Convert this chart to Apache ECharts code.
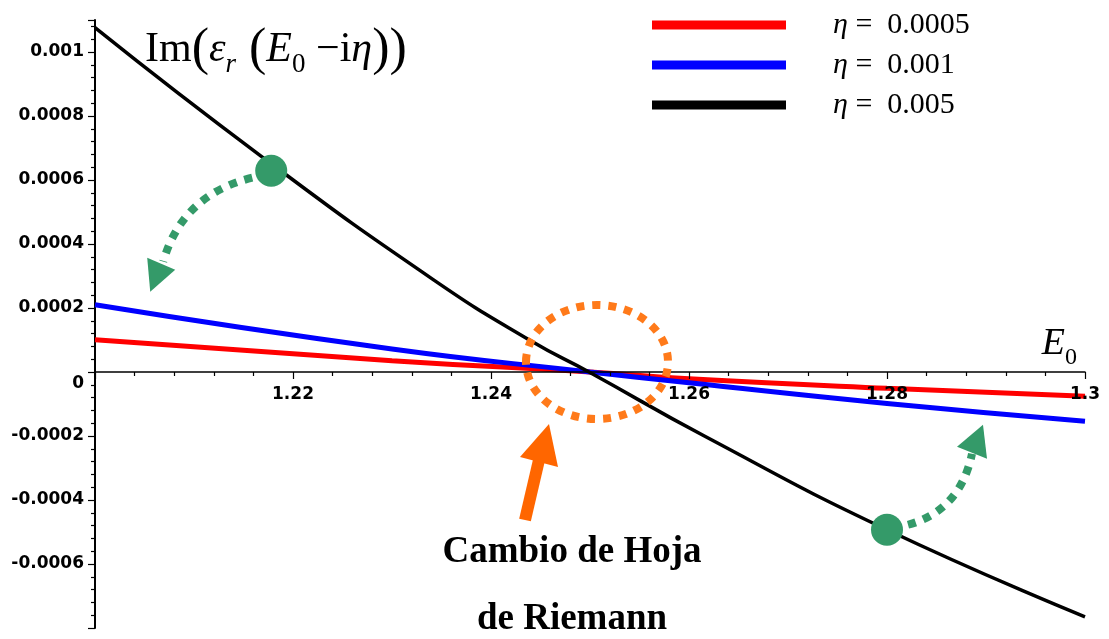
<!DOCTYPE html>
<html>
<head>
<meta charset="utf-8">
<title>Im(εr(E0 − iη))</title>
<script src="https://cdn.jsdelivr.net/npm/echarts@6/dist/echarts.min.js"></script>
<style>
  html, body { margin: 0; padding: 0; background: #fff; }
  #chart { width: 1109px; height: 639px; }
</style>
</head>
<body>
<div id="chart"></div>
<script>
// values
const etaLabels = ['0.0005', '0.001', '0.005'];
const lineColors = ['#ff0000', '#0000ff', '#000000'];

const e0Red = [1.2, 1.23, 1.25, 1.26, 1.28, 1.3];
const imRed = [0.000101, 0.0000353, 0, -0.0000213, -0.000051, -0.0000756];

const e0Blue = [1.2, 1.23, 1.25, 1.26, 1.28, 1.3];
const imBlue = [0.00021, 0.0000719, 0, -0.0000338, -0.0000984, -0.000154];

const e0Black = [1.2, 1.2168, 1.2342, 1.2441, 1.2499, 1.2616, 1.28, 1.3];
const imBlack = [0.001076, 0.000674, 0.000288, 0.000096, 0, -0.000201, -0.000493, -0.000765];

// axis ranges
const xMin = 1.2, xMax = 1.3, xStep = 0.02;
const yMin = -0.0008, yMax = 0.0011, yStep = 0.0002;

// annotation anchors (data coordinates)
const greenDots = [[1.2178, 0.000629], [1.28, -0.000493]];
const crossing = [1.25, 0];

const green = '#349a69';
const serif = 'Liberation Serif';
const gridTop = 20, gridHeight = 608;

const pairs = (xs, ys) => xs.map((x, i) => [x, ys[i]]);
const seriesData = [pairs(e0Red, imRed), pairs(e0Blue, imBlue), pairs(e0Black, imBlack)];

// the horizontal axis sits on y = 0, so lift it from the grid bottom by that much
const zeroLift = gridHeight * (0 - yMin) / (yMax - yMin);

const chart = echarts.init(document.getElementById('chart'));

const option = {
  animation: false,
  backgroundColor: '#fff',
  grid: { left: 95, right: 24, top: gridTop, height: gridHeight, outerBoundsMode: 'none' },
  legend: {
    orient: 'vertical',
    left: 647,
    top: 5,
    icon: 'rect',
    itemWidth: 134,
    itemHeight: 9,
    itemGap: 10,
    selectedMode: false,
    formatter: name => '{e|η}{t| =  ' + name.split('= ')[1] + '}',
    textStyle: {
      color: '#000',
      padding: [0, 0, 0, 42],
      rich: {
        e: { fontFamily: serif, fontStyle: 'italic', fontSize: 30, lineHeight: 34, color: '#000' },
        t: { fontFamily: serif, fontSize: 30, lineHeight: 34, color: '#000' }
      }
    }
  },
  xAxis: {
    type: 'value',
    min: xMin,
    max: xMax,
    interval: xStep,
    offset: -zeroLift,
    z: 5,
    name: '{i|E}{s|0}',
    nameLocation: 'end',
    nameGap: -8,
    nameMoveOverlap: false,
    nameTextStyle: {
      align: 'right',
      verticalAlign: 'bottom',
      padding: [0, 0, 2, 0],
      rich: {
        i: { fontFamily: serif, fontStyle: 'italic', fontSize: 38, lineHeight: 52, color: '#000' },
        s: { fontFamily: serif, fontSize: 24, lineHeight: 24, verticalAlign: 'bottom', color: '#000' }
      }
    },
    axisLine: { onZero: false, lineStyle: { color: '#000', width: 1.5 } },
    axisTick: { length: 7, lineStyle: { color: '#000', width: 1.2 } },
    minorTick: { show: true, splitNumber: 5, length: 4, lineStyle: { color: '#000', width: 1.2 } },
    splitLine: { show: false },
    axisLabel: {
      showMinLabel: false,
      hideOverlap: false,
      margin: 14,
      color: '#000',
      fontFamily: 'DejaVu Sans',
      fontWeight: 'bold',
      fontSize: 17,
      formatter: v => String(+v.toFixed(2))
    }
  },
  yAxis: {
    type: 'value',
    min: yMin,
    max: yMax,
    interval: yStep,
    name: '{n|Im}{p|(}{i|ε}{sr|r}{p| (}{i|E}{s0|0}{n| −i}{i|η}{p|))}',
    nameLocation: 'end',
    nameGap: -30,
    nameMoveOverlap: false,
    nameTextStyle: {
      align: 'left',
      verticalAlign: 'middle',
      padding: [0, 0, 0, 50],
      rich: {
        n: { fontFamily: serif, fontSize: 42, lineHeight: 56, color: '#000' },
        i: { fontFamily: serif, fontStyle: 'italic', fontSize: 42, lineHeight: 56, color: '#000' },
        p: { fontFamily: serif, fontSize: 52, lineHeight: 56, color: '#000' },
        sr: { fontFamily: serif, fontStyle: 'italic', fontSize: 27, lineHeight: 26, verticalAlign: 'bottom', color: '#000' },
        s0: { fontFamily: serif, fontSize: 27, lineHeight: 26, verticalAlign: 'bottom', color: '#000' }
      }
    },
    axisLine: { show: true, onZero: false, lineStyle: { color: '#000', width: 2 } },
    axisTick: { show: true, length: 7, lineStyle: { color: '#000', width: 1.2 } },
    minorTick: { show: true, splitNumber: 5, length: 4, lineStyle: { color: '#000', width: 1.2 } },
    splitLine: { show: false },
    axisLabel: {
      showMinLabel: false,
      showMaxLabel: false,
      margin: 11,
      color: '#000',
      fontFamily: 'DejaVu Sans',
      fontWeight: 'bold',
      fontSize: 17,
      formatter: v => {
        const s = String(+v.toFixed(6));
        return s === '0' ? '{z|0}' : s;
      },
      rich: {
        z: { fontFamily: 'DejaVu Sans', fontWeight: 'bold', fontSize: 17, color: '#000', padding: [24, 0, 0, 0] }
      }
    }
  },
  series: etaLabels.map((eta, k) => ({
    name: 'η = ' + eta,
    type: 'line',
    data: seriesData[k],
    smooth: 0.5,
    symbol: 'none',
    color: lineColors[k],
    lineStyle: { color: lineColors[k], width: k === 2 ? 3.5 : 5 },
    z: 2 + k,
    markPoint: k === 2 ? {
      symbol: 'circle',
      symbolSize: 32,
      itemStyle: { color: green },
      label: { show: false },
      data: greenDots.map(p => ({ coord: p }))
    } : undefined
  }))
};

chart.setOption(option);

// decorative arrows / circle / caption, placed relative to data anchors
const px = p => chart.convertToPixel({ gridIndex: 0 }, p);
const [d1x, d1y] = px(greenDots[0]);
const [d2x, d2y] = px(greenDots[1]);
const [cx, cy] = px(crossing);

const dashed = { fill: null, stroke: green, lineWidth: 8, lineDash: [8, 8] };

chart.setOption({
  graphic: [
    {
      type: 'bezierCurve', z: 10,
      shape: { x1: d1x - 19, y1: d1y + 7, cpx1: d1x - 89, cpy1: d1y + 24, x2: d1x - 108, y2: d1y + 91 },
      style: dashed
    },
    {
      type: 'polygon', z: 10,
      shape: { points: [[d1x - 124, d1y + 87], [d1x - 96, d1y + 99], [d1x - 121, d1y + 121]] },
      style: { fill: green }
    },
    {
      type: 'bezierCurve', z: 10,
      shape: { x1: d2x + 21, y1: d2y - 5, cpx1: d2x + 73, cpy1: d2y - 19, x2: d2x + 85, y2: d2y - 76 },
      style: dashed
    },
    {
      type: 'polygon', z: 10,
      shape: { points: [[d2x + 70, d2y - 83], [d2x + 100, d2y - 71], [d2x + 96, d2y - 105]] },
      style: { fill: green }
    },
    {
      type: 'ellipse', z: 10,
      shape: { cx: cx + 7, cy: cy - 10, rx: 71, ry: 57 },
      style: { fill: null, stroke: '#ff7a1a', lineWidth: 8, lineDash: [8, 8] }
    },
    {
      type: 'line', z: 10,
      shape: { x1: cx - 65, y1: cy + 148, x2: cx - 51, y2: cy + 88 },
      style: { stroke: '#ff6600', lineWidth: 12 }
    },
    {
      type: 'polygon', z: 10,
      shape: { points: [[cx - 41, cy + 52], [cx - 70, cy + 85], [cx - 32, cy + 95]] },
      style: { fill: '#ff6600' }
    },
    {
      type: 'text', z: 10,
      x: cx - 18, y: cy + 214,
      style: {
        text: 'Cambio de Hoja\nde Riemann',
        fontFamily: serif,
        fontWeight: 'bold',
        fontSize: 37,
        lineHeight: 67,
        fill: '#000',
        align: 'center',
        textAlign: 'center',
        verticalAlign: 'middle',
        textVerticalAlign: 'middle'
      }
    }
  ]
});
</script>
</body>
</html>
